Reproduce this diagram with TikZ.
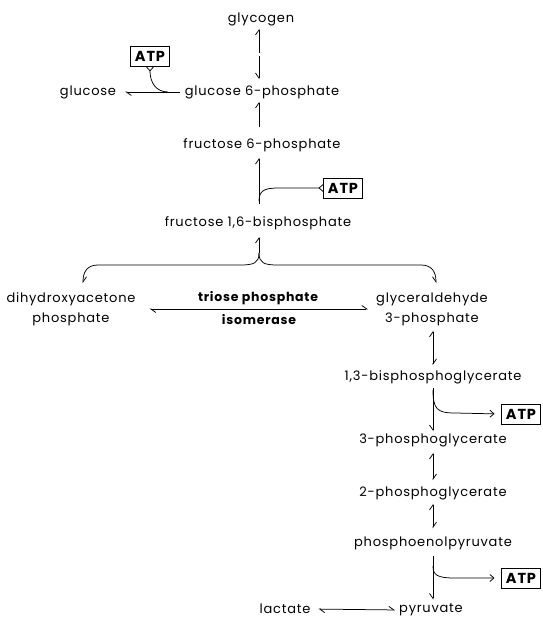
\documentclass[tikz,border=0pt]{standalone}
\usepackage{fontspec}
\setmainfont{Poppins}[LetterSpace=6]
\usetikzlibrary{arrows.meta}
\tikzset{
  lbl/.style={inner sep=0pt, font=\fontsize{13}{20}\selectfont, align=center},
  boldlbl/.style={lbl, font=\fontsize{12.5}{20}\selectfont\bfseries},
  atpbox/.style={draw, line width=1pt, inner xsep=4pt, minimum height=20pt, font=\fontsize{14.5}{16}\selectfont\bfseries},
  conn/.style={line width=0.75pt},
  hu/.style={-{Straight Barb[harpoon,length=5pt,width=7pt]}},
  hus/.style={-{Straight Barb[harpoon,swap,length=5pt,width=7pt]}},
  hb/.style={{Straight Barb[harpoon,length=5pt,width=7pt]}-{Straight Barb[harpoon,length=5pt,width=7pt]}},
  fork/.style={{Straight Barb[reversed,length=4pt,width=7pt]}-},
  fa/.style={-{Straight Barb[length=4pt,width=7pt]}}
}
\begin{document}
\begin{tikzpicture}[x=1pt,y=-1pt]
\useasboundingbox (0,0) rectangle (542,619);
% nodes
\node[lbl] (glycogen) at (261,19) {glycogen};
\node[lbl] (g6p) at (262,92) {glucose 6-phosphate};
\node[lbl] (glucose) at (88,92) {glucose};
\node[lbl] (f6p) at (262,145) {fructose 6-phosphate};
\node[lbl] (f16bp) at (258,223) {fructose 1,6-bisphosphate};
\node[lbl] (dhap) at (71,309) {dihydroxyacetone\\phosphate};
\node[boldlbl] (tpi1) at (258,298) {triose phosphate};
\node[boldlbl] (tpi2) at (259,320) {isomerase};
\node[lbl] (gap) at (432,309) {glyceraldehyde\\3-phosphate};
\node[lbl] (bpg) at (433,377) {1,3-bisphosphoglycerate};
\node[lbl] (pg3) at (433,440) {3-phosphoglycerate};
\node[lbl] (pg2) at (433,493) {2-phosphoglycerate};
\node[lbl] (pep) at (433,543) {phosphoenolpyruvate};
\node[lbl] (pyr) at (431,610) {pyruvate};
\node[lbl] (lac) at (285,609) {lactate};
\node[atpbox] (atp1) at (150,56) {ATP};
\node[atpbox] (atp2) at (343,188) {ATP};
\node[atpbox] (atp3) at (521,414) {ATP};
\node[atpbox] (atp4) at (521,578) {ATP};
% column coordinates
\coordinate (lc) at (259,0);
\coordinate (rc) at (433,0);
% glycogen <-> g6p
\path (glycogen.south -| lc) -- coordinate[pos=0.45] (m1) coordinate[pos=0.5] (m2) (g6p.north -| lc);
\draw[conn,hu,shorten >=3pt] (m1) -- (glycogen.south -| lc);
\draw[conn,hus,shorten >=6pt] (m2) -- (g6p.north -| lc);
% g6p -> glucose
\draw[conn,hu,shorten <=5pt,shorten >=9pt] (g6p.west) -- (glucose.east);
\draw[conn,fork] (atp1.south) .. controls ([yshift=-16pt]atp1.south) and (156,92) .. (168,92);
% f6p -> g6p
\draw[conn,hu,shorten <=11pt,shorten >=3pt] (f6p.north -| lc) -- (g6p.south -| lc);
% f16bp -> f6p
\draw[conn,hu,shorten <=12pt,shorten >=6pt] (f16bp.north -| lc) -- (f6p.south -| lc);
\draw[conn,fork] (atp2.west) -- (278,188) .. controls (264,188) and (259,191) .. (259,201);
% branches
\coordinate (j) at (259,253);
\draw[conn,hu,shorten >=7pt] (j) -- (f16bp.south -| lc);
\draw[conn,hu] (j) .. controls (259,263) and (254,265) .. (240,265) -- (98,265) .. controls (88,265) and (83,271) .. (83,283);
\draw[conn,hus] (j) .. controls (259,263) and (264,265) .. (278,265) -- (421,265) .. controls (431,265) and (436,271) .. (436,283);
% triose phosphate isomerase
\draw[conn,hb,shorten <=14pt,shorten >=8pt] (dhap.east) -- (gap.west);
% gap <-> bpg
\draw[conn,hb,shorten <=5pt,shorten >=5pt] (gap.south -| rc) -- (bpg.north -| rc);
% bpg -> pg3
\draw[conn,hus,shorten <=4pt,shorten >=2pt] (bpg.south -| rc) -- (pg3.north -| rc);
\draw[conn,fa,shorten >=7pt] (433,390) .. controls (433,409) and (437,413) .. (455,413) -- (atp3.west);
% pg3 <-> pg2
\draw[conn,hb,shorten <=6pt,shorten >=6pt] (pg3.south -| rc) -- (pg2.north -| rc);
% pg2 <-> pep
\draw[conn,hb,shorten <=4pt,shorten >=8pt] (pg2.south -| rc) -- (pep.north -| rc);
% pep -> pyr
\draw[conn,hus,shorten <=6pt,shorten >=4pt] (pep.south -| rc) -- (pyr.north -| rc);
\draw[conn,fa,shorten >=7pt] (433,566) .. controls (433,575) and (437,578) .. (455,578) -- (atp4.west);
% lactate <-> pyruvate
\draw[conn,hb,shorten <=8pt,shorten >=4pt] (lac.east) -- (pyr.west);
\end{tikzpicture}
\end{document}
